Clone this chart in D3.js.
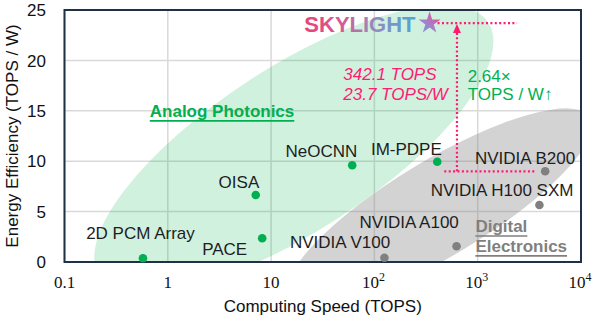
<!DOCTYPE html>
<html><head><meta charset="utf-8">
<script src="https://cdn.jsdelivr.net/npm/d3@7"></script>
<style>body{margin:0;background:#fff}svg{display:block}</style>
</head><body><svg id="c" width="598" height="319"></svg>
<script>
// ---- data ----
const xTicks = [0.1, 1, 10, 100, 1000, 10000];
const xTickBase = ["0.1", "1", "10", "10", "10", "10"];
const xTickExp = ["", "", "", "2", "3", "4"];
const yTicks = [0, 5, 10, 15, 20, 25];

const photonicNames = ["2D PCM Array", "PACE", "OISA", "NeOCNN", "IM-PDPE"];
const photonicSpeed = [0.575, 8.2, 7.1, 61, 406];
const photonicEff = [0.37, 2.35, 6.65, 9.6, 9.95];

const electronicNames = ["NVIDIA V100", "NVIDIA A100", "NVIDIA H100 SXM", "NVIDIA B200"];
const electronicSpeed = [125, 624, 3958, 4500];
const electronicEff = [0.42, 1.56, 5.65, 9.0];

const skylightName = "SKYLIGHT";
const skylightSpeed = [342.1];
const skylightEff = [23.7];
const skylightTexts = ["342.1 TOPS", "23.7 TOPS/W"];
const gainTexts = ["2.64×", "TOPS / W↑"];

// ---- layout ----
const W = 598, H = 319;
const M = {left: 64.5, right: 581, top: 10, bottom: 262};
const svg = d3.select("#c");
const x = d3.scaleLog().domain([0.1, 10000]).range([M.left, M.right]);
const y = d3.scaleLinear().domain([0, 25]).range([M.bottom, M.top]);
const sans = "'Liberation Sans', Arial, sans-serif";
const serif = "'Liberation Serif', 'Times New Roman', serif";

const defs = svg.append("defs");
defs.append("clipPath").attr("id", "plotclip").append("rect")
  .attr("x", M.left).attr("y", M.top).attr("width", M.right - M.left).attr("height", M.bottom - M.top);
const tg = defs.append("linearGradient").attr("id", "skyg").attr("gradientUnits", "userSpaceOnUse")
  .attr("x1", 303).attr("x2", 416).attr("y1", 0).attr("y2", 0);
[["0", "#ea3f78"], ["0.35", "#d45c94"], ["0.6", "#9b86bd"], ["1", "#4fa6d8"]]
  .forEach(s => tg.append("stop").attr("offset", s[0]).attr("stop-color", s[1]));
const sg = defs.append("linearGradient").attr("id", "starg")
  .attr("x1", "0").attr("y1", "1").attr("x2", "1").attr("y2", "0");
[["0", "#6f9fe0"], ["0.45", "#a77fc8"], ["1", "#ff3b86"]]
  .forEach(s => sg.append("stop").attr("offset", s[0]).attr("stop-color", s[1]));

// grid
const grid = svg.append("g");
grid.selectAll(".gx").data(xTicks).join("line")
  .attr("x1", d => x(d)).attr("x2", d => x(d)).attr("y1", M.top).attr("y2", M.bottom)
  .attr("stroke", "#d9d9d9").attr("stroke-width", 1.5);
grid.selectAll(".gy").data(yTicks).join("line")
  .attr("x1", M.left).attr("x2", M.right).attr("y1", d => y(d)).attr("y2", d => y(d))
  .attr("stroke", "#d9d9d9").attr("stroke-width", 1.5);

// regions
const regions = svg.append("g").attr("clip-path", "url(#plotclip)");
const greenRegion = {cx: 16.6, cy: 11.19, rx: 232, ry: 82, rot: -33};
const grayRegion = {cx: 426, cy: 5.37, rx: 176, ry: 48, rot: -31};
regions.append("ellipse")
  .attr("transform", `translate(${x(greenRegion.cx)},${y(greenRegion.cy)}) rotate(${greenRegion.rot})`)
  .attr("rx", greenRegion.rx).attr("ry", greenRegion.ry)
  .attr("fill", "#00b050").attr("fill-opacity", 0.18);
regions.append("ellipse")
  .attr("transform", `translate(${x(grayRegion.cx)},${y(grayRegion.cy)}) rotate(${grayRegion.rot})`)
  .attr("rx", grayRegion.rx).attr("ry", grayRegion.ry)
  .attr("fill", "#808080").attr("fill-opacity", 0.35);

// frame
svg.append("rect").attr("x", M.left).attr("y", M.top)
  .attr("width", M.right - M.left).attr("height", M.bottom - M.top)
  .attr("fill", "none").attr("stroke", "#1f3144").attr("stroke-width", 2);

// tick labels
const xl = svg.append("g");
xTicks.forEach((t, i) => {
  const tx = xl.append("text").attr("x", x(t) + (xTickExp[i] ? -1 : 0)).attr("y", 288)
    .attr("text-anchor", "middle").attr("font-family", serif).attr("font-size", 17).attr("fill", "#111");
  tx.append("tspan").text(xTickBase[i]);
  if (xTickExp[i]) tx.append("tspan").attr("dy", -7).attr("font-size", 12).text(xTickExp[i]);
});
svg.append("g").selectAll("text").data(yTicks).join("text")
  .attr("x", 46).attr("y", d => y(d)).attr("dy", "0.36em").attr("text-anchor", "end")
  .attr("font-family", sans).attr("font-size", 17).attr("fill", "#111").text(d => d);

// axis titles
svg.append("text").attr("x", (M.left + M.right) / 2).attr("y", 312).attr("text-anchor", "middle")
  .attr("font-family", sans).attr("font-size", 17).attr("fill", "#111").text("Computing Speed (TOPS)");
svg.append("text").attr("transform", `translate(18,${(M.top + M.bottom) / 2}) rotate(-90)`)
  .attr("text-anchor", "middle").attr("font-family", sans).attr("font-size", 17).attr("fill", "#111")
  .text("Energy Efficiency (TOPS / W)");

// annotation lines (pink dotted)
const pink = "#ff1a72";
const arrowX = 630, upperEnd = 2400, lowerStart = 475, lowerEnd = 3600;
const ann = svg.append("g").attr("stroke", pink).attr("stroke-width", 2.2).attr("stroke-dasharray", "2,2.4").attr("fill", "none");
ann.append("line").attr("x1", x(skylightSpeed[0]) + 8).attr("x2", x(upperEnd))
  .attr("y1", y(skylightEff[0])).attr("y2", y(skylightEff[0]));
ann.append("line").attr("x1", x(lowerStart)).attr("x2", x(lowerEnd))
  .attr("y1", y(electronicEff[3])).attr("y2", y(electronicEff[3]));
ann.append("line").attr("x1", x(arrowX)).attr("x2", x(arrowX))
  .attr("y1", y(electronicEff[3])).attr("y2", y(skylightEff[0]) + 9);
const ax = x(arrowX), ay = y(skylightEff[0]) + 1;
svg.append("path").attr("d", `M${ax},${ay} L${ax - 4},${ay + 9} L${ax + 4},${ay + 9} Z`).attr("fill", pink);

// points
svg.append("g").selectAll("circle").data(photonicNames).join("circle")
  .attr("cx", (d, i) => x(photonicSpeed[i])).attr("cy", (d, i) => y(photonicEff[i]))
  .attr("r", 4.3).attr("fill", "#00b050");
svg.append("g").selectAll("circle").data(electronicNames).join("circle")
  .attr("cx", (d, i) => x(electronicSpeed[i])).attr("cy", (d, i) => y(electronicEff[i]))
  .attr("r", 4.3).attr("fill", "#808080");

// point labels
const labelLayout = {
  "2D PCM Array": {a: "middle", dx: -2.5, dy: -19},
  "PACE": {a: "end", dx: -15, dy: 17},
  "OISA": {a: "end", dx: 3.5, dy: -7},
  "NeOCNN": {a: "end", dx: 5, dy: -8.6},
  "IM-PDPE": {a: "end", dx: 4.5, dy: -6.7},
  "NVIDIA V100": {a: "end", dx: 5.7, dy: -10},
  "NVIDIA A100": {a: "end", dx: 2.3, dy: -18.4},
  "NVIDIA H100 SXM": {a: "end", dx: 34, dy: -8.6},
  "NVIDIA B200": {a: "end", dx: 30, dy: -7.7}
};
const allNames = photonicNames.concat(electronicNames);
const allX = photonicSpeed.concat(electronicSpeed);
const allY = photonicEff.concat(electronicEff);
svg.append("g").selectAll("text").data(allNames).join("text")
  .attr("x", (d, i) => x(allX[i]) + labelLayout[d].dx)
  .attr("y", (d, i) => y(allY[i]) + labelLayout[d].dy)
  .attr("text-anchor", d => labelLayout[d].a)
  .attr("font-family", sans).attr("font-size", 17).attr("fill", "#1e1e1e").text(d => d);

// group titles with underline
function underlined(txt, px, py, color, anchor) {
  const t = svg.append("text").attr("x", px).attr("y", py).attr("text-anchor", anchor)
    .attr("font-family", sans).attr("font-size", 17).attr("font-weight", "bold").attr("fill", color).text(txt);
  const b = t.node().getBBox();
  svg.append("line").attr("x1", b.x).attr("x2", b.x + b.width).attr("y1", py + 4).attr("y2", py + 4)
    .attr("stroke", color).attr("stroke-width", 1.6);
}
underlined("Analog Photonics", x(3.35), y(14.4), "#00b050", "middle");
underlined("Digital", x(950), y(2.98), "#7f7f7f", "start");
underlined("Electronics", x(950), y(1.0), "#7f7f7f", "start");

// SKYLIGHT
svg.append("text").attr("x", x(skylightSpeed[0]) - 14).attr("y", y(skylightEff[0]) + 9)
  .attr("text-anchor", "end").attr("font-family", sans).attr("font-size", 22).attr("font-weight", "bold")
  .attr("fill", "url(#skyg)").text(skylightName);
svg.append("path").attr("d", d3.symbol(d3.symbolStar, 150)())
  .attr("transform", `translate(${x(skylightSpeed[0])},${y(skylightEff[0])})`)
  .attr("fill", "url(#starg)");

// value annotations
svg.append("g").selectAll("text").data(skylightTexts).join("text")
  .attr("x", x(50)).attr("y", (d, i) => y(i === 0 ? 18.05 : 16.05))
  .attr("font-family", sans).attr("font-size", 17).attr("font-style", "italic").attr("fill", pink).text(d => d);
svg.append("g").selectAll("text").data(gainTexts).join("text")
  .attr("x", x(800)).attr("y", (d, i) => y(i === 0 ? 17.9 : 16.05))
  .attr("font-family", sans).attr("font-size", 17).attr("fill", "#00b050").text(d => d);
</script></body></html>
